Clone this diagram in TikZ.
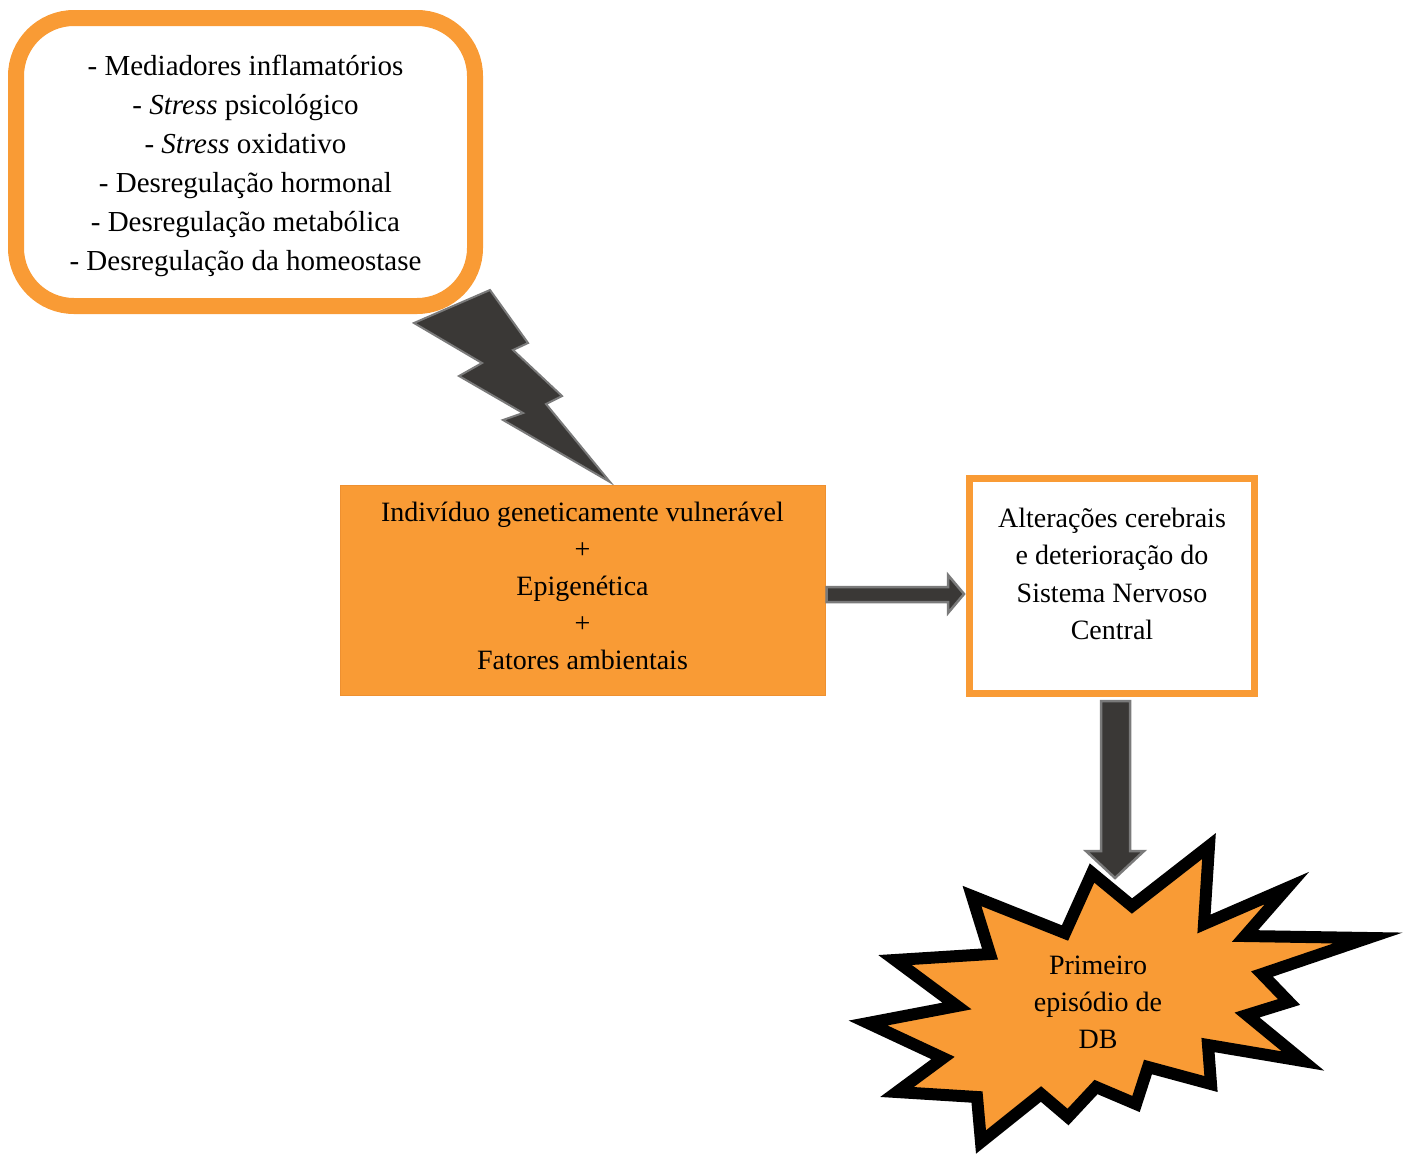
\documentclass[tikz,border=0pt]{standalone}
\usepackage{fontspec}
\setmainfont{Liberation Serif}
\usetikzlibrary{calc}
\definecolor{orng}{HTML}{F99B35}
\definecolor{orngdk}{HTML}{EE9030}
\definecolor{darkfill}{HTML}{3A3836}
\definecolor{greyedge}{HTML}{7A7A7A}
\tikzset{
  txt/.style={font=\fontsize{28}{37}\selectfont, align=center, inner sep=0pt},
  blockarrow/.style={fill=darkfill, draw=greyedge, line width=2.5pt, line join=miter},
}
\begin{document}
\begin{tikzpicture}[x=1pt,y=-1pt]
\useasboundingbox (0,0) rectangle (1411,1154);
% top rounded box
\draw[orng, line width=16pt, fill=white, rounded corners=58pt] (16,18) rectangle (475,306);
\node[txt, font=\fontsize{29}{39}\selectfont] (factors) at (245.5,166) {- Mediadores inflamatórios\\- \textit{Stress} psicológico\\- \textit{Stress} oxidativo\\- Desregulação hormonal\\- Desregulação metabólica\\- Desregulação da homeostase};
% lightning bolt
\draw[blockarrow, line width=2pt] (490,290) -- (528,343) -- (513,350) -- (562,396) -- (546,404) -- (610,482) -- (503,420) -- (523,413) -- (459,376) -- (482,363) -- (414,323) -- cycle;
% main box
\node[fill=orng, draw=orngdk, line width=1pt, minimum width=485pt, minimum height=210pt] (main) at (582.5,590) {};
\node[txt] (maintext) at (582.5,586) {Indivíduo geneticamente vulnerável\\+\\Epigenética\\+\\Fatores ambientais};
% right box
\node[fill=white, draw=orng, line width=7pt, minimum width=285pt, minimum height=215pt] (cns) at (1112,586) {};
\node[txt, font=\fontsize{28}{37.5}\selectfont] (cnstext) at (1112,574) {Alterações cerebrais\\e deterioração do\\Sistema Nervoso\\Central};
% right arrow
\draw[blockarrow] ($(main.east)+(1,-3)$) -- (948,587) -- (948,575) -- ($(cns.west)+(-2,8)$) -- (948,613) -- (948,602) -- ($(main.east)+(1,12)$) -- cycle;
% star
\draw[line width=12pt, fill=orng, line join=miter, miter limit=10] (1092,873) -- (1132,906) -- (1209,846) -- (1204,924) -- (1287,888) -- (1245,936) -- (1368,938) -- (1262,974) -- (1289,1002) -- (1247,1015) -- (1303,1061) -- (1208,1045) -- (1211,1084) -- (1148,1067) -- (1136,1104) -- (1096,1087) -- (1068,1117) -- (1041,1094) -- (981,1142) -- (977,1097) -- (897,1092) -- (943,1058) -- (868,1023) -- (957,1006) -- (895,960) -- (990,954) -- (972,896) -- (1065,933) -- cycle;
\node[txt] (episode) at (1098,1002) {Primeiro\\episódio de\\DB};
% down arrow
\draw[blockarrow] ($(cns.south)+(-11,4)$) -- (1101,851) -- (1086,851) -- (1115,878) -- (1144,851) -- (1130,851) -- ($(cns.south)+(18,4)$) -- cycle;
\end{tikzpicture}
\end{document}
